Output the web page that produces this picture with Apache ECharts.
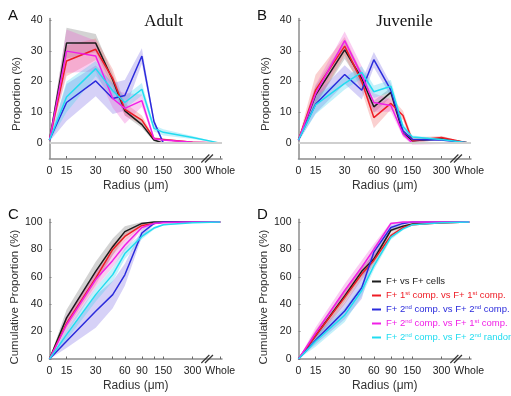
<!DOCTYPE html>
<html><head><meta charset="utf-8">
<script src="https://cdn.jsdelivr.net/npm/echarts@6/dist/echarts.min.js"></script>
<style>html,body{margin:0;padding:0;background:#fff}#c{width:511px;height:396px}</style>
</head><body><div id="c"></div><script>
// ---- data ----
const radii = [0, 15, 30, 45, 60, 90, 120, 150, 300, 'Whole'];
const xLabelRadii = [0, 15, 30, 60, 90, 150, 300, 'Whole'];
const xTickRadii = [15, 30, 45, 60, 90, 120, 150, 300, 'Whole'];
const yTicksProportion = [0, 10, 20, 30, 40];
const yTicksCumulative = [0, 20, 40, 60, 80, 100];
const seriesNames = ['F+ vs F+ cells', 'F+ 1st comp. vs F+ 1st comp.', 'F+ 2nd comp. vs F+ 2nd comp.', 'F+ 2nd comp. vs F+ 1st comp.', 'F+ 2nd comp. vs F+ 2nd random'];

// Panel A (Adult) mean and SEM
const adultBlack   = [1, 32.5, 32.5, 20.5, 10.5, 6, 1, 0, 0, 0];
const adultRed     = [1, 26.7, 30.5, 21, 11, 7.5, 1.5, 1.2, 0.3, 0];
const adultBlue    = [1, 13.2, 20.2, 14.5, 15.5, 28.3, 7, 0, 0, 0];
const adultMagenta = [1, 29.9, 28.3, 14.5, 11.3, 13.8, 1.4, 1.0, 0.3, 0];
const adultCyan    = [1, 15, 24.2, 17, 13.2, 17.5, 4.8, 3.5, 1.8, 0];
const adultBlackSem   = [0.5, 5, 3, 2, 1.5, 1, 0.5, 0, 0, 0];
const adultRedSem     = [0.5, 5, 3.5, 3, 2, 1.5, 0.5, 0.3, 0.2, 0];
const adultBlueSem    = [0.5, 6, 5, 5, 5, 2.5, 1, 0, 0, 0];
const adultMagentaSem = [0.5, 7, 5, 3, 5, 2, 0.5, 0.3, 0.2, 0];
const adultCyanSem    = [0.5, 5, 2.5, 2, 2, 2, 1, 1, 0.5, 0];

// Panel B (Juvenile)
const juvBlack   = [1, 15.6, 30.3, 21, 11.8, 16.5, 3.2, 0.8, 1.4, 0];
const juvRed     = [1, 17.2, 31.5, 20, 8.3, 12.9, 9, 0.8, 1.8, 0];
const juvBlue    = [1, 12.6, 22.3, 17.2, 27.1, 17.2, 4, 1.2, 1, 0];
const juvMagenta = [1, 16, 33.3, 22, 13.2, 12.2, 3, 0, 0, 0];
const juvCyan    = [1, 12.4, 19.4, 23, 16.7, 18.5, 5.4, 2, 1.2, 0];
const juvBlackSem   = [0.5, 3, 3, 2, 2, 1.5, 1, 0.5, 0.5, 0];
const juvRedSem     = [0.5, 5, 3, 3, 3.5, 2, 1.5, 1, 0.5, 0];
const juvBlueSem    = [0.5, 3, 3, 3, 2.5, 2, 1, 0.5, 0.3, 0];
const juvMagentaSem = [0.5, 3, 3, 3, 3, 2, 1, 0.5, 0.3, 0];
const juvCyanSem    = [0.5, 3, 2, 2, 2, 2, 1, 0.5, 0.3, 0];

// Panel C (Adult cumulative)
const adultCumBlack   = [0, 30, 64, 82, 93, 99, 100, 100, 100, 100];
const adultCumRed     = [0, 26, 59, 80, 89.5, 97.5, 99, 100, 100, 100];
const adultCumBlue    = [0, 13, 34.8, 47, 61.5, 92, 99, 100, 100, 100];
const adultCumMagenta = [0, 25, 58, 72, 83, 96, 99, 99.5, 100, 100];
const adultCumCyan    = [0, 17.8, 47, 61.6, 77, 89.5, 95.6, 98, 99.5, 100];
const adultCumBlackSem   = [0, 6, 7, 6, 4, 1, 0, 0, 0, 0];
const adultCumRedSem     = [0, 4, 5, 4, 3, 1, 0.5, 0, 0, 0];
const adultCumBlueSem    = [0, 5, 12, 10, 8, 3, 1, 0, 0, 0];
const adultCumMagentaSem = [0, 7, 6, 5, 4, 1.5, 0.5, 0, 0, 0];
const adultCumCyanSem    = [0, 4, 5, 5, 4, 2, 1, 0.5, 0, 0];

// Panel D (Juvenile cumulative)
const juvCumBlack   = [0, 17, 46, 64, 73, 94, 97, 98.5, 99.5, 100];
const juvCumRed     = [0, 17, 45, 62, 72, 90, 96, 98, 99.5, 100];
const juvCumBlue    = [0, 13.6, 35, 52, 78, 96, 99, 100, 100, 100];
const juvCumMagenta = [0, 19, 50, 67, 80, 99, 100, 100, 100, 100];
const juvCumCyan    = [0, 13, 32, 50, 68, 89, 95, 98, 99.5, 100];
const juvCumBlackSem   = [0, 3, 4, 4, 3, 1.5, 1, 0.5, 0, 0];
const juvCumRedSem     = [0, 4, 5, 4, 4, 2, 1, 0.5, 0, 0];
const juvCumBlueSem    = [0, 3, 6, 8, 4, 2, 1, 0, 0, 0];
const juvCumMagentaSem = [0, 4, 5, 5, 4, 1, 0, 0, 0, 0];
const juvCumCyanSem    = [0, 4, 5, 4, 3, 2, 1, 0.5, 0, 0];

// ---- axis scale (log radius axis with "0" and "Whole" anchors) ----
const AXIS_ZERO = 10, AXIS_WHOLE = 580, AXIS_MAX = 605, BREAK_AT = 425;
function axisVal(r) { return r === 0 ? AXIS_ZERO : (r === 'Whole' ? AXIS_WHOLE : r); }
function labelOf(v) {
  const r = Math.round(v);
  if (r === AXIS_ZERO) return '0';
  if (r === AXIS_WHOLE) return 'Whole';
  return String(r);
}

// ---- styles ----
const lineColors = ['#1c1c1c', '#ee1c25', '#2b2bdc', '#f020e6', '#22dcf0'];
const bandColors = ['rgba(130,130,130,0.35)', 'rgba(240,110,110,0.32)', 'rgba(128,112,230,0.32)', 'rgba(240,90,210,0.3)', 'rgba(60,210,240,0.3)'];
const FONT = 'Liberation Sans, Arial, sans-serif';

const panels = [
  { means: [adultBlack, adultRed, adultBlue, adultMagenta, adultCyan],
    sems: [adultBlackSem, adultRedSem, adultBlueSem, adultMagentaSem, adultCyanSem],
    yMin: -5, yMax: 40.5, yTicks: yTicksProportion, yName: 'Proportion (%)', yNameShift: 11, zero: true },
  { means: [juvBlack, juvRed, juvBlue, juvMagenta, juvCyan],
    sems: [juvBlackSem, juvRedSem, juvBlueSem, juvMagentaSem, juvCyanSem],
    yMin: -5, yMax: 40.5, yTicks: yTicksProportion, yName: 'Proportion (%)', yNameShift: 11, zero: true },
  { means: [adultCumBlack, adultCumRed, adultCumBlue, adultCumMagenta, adultCumCyan],
    sems: [adultCumBlackSem, adultCumRedSem, adultCumBlueSem, adultCumMagentaSem, adultCumCyanSem],
    yMin: 0, yMax: 102, yTicks: yTicksCumulative, yName: 'Cumulative Proportion (%)', yNameShift: 16, zero: false },
  { means: [juvCumBlack, juvCumRed, juvCumBlue, juvCumMagenta, juvCumCyan],
    sems: [juvCumBlackSem, juvCumRedSem, juvCumBlueSem, juvCumMagentaSem, juvCumCyanSem],
    yMin: 0, yMax: 102, yTicks: yTicksCumulative, yName: 'Cumulative Proportion (%)', yNameShift: 16, zero: false }
];

const gridBoxes = [
  { left: 49.5, top: 18.5, width: 172.5, height: 140 },
  { left: 298.5, top: 18.5, width: 172.5, height: 140 },
  { left: 49.5, top: 219.3, width: 172.5, height: 139.7 },
  { left: 298.5, top: 219.3, width: 172.5, height: 139.7 }
];

const axisLineStyle = { color: '#8c8c8c', width: 1.5 };
const xAxes = [], yAxes = [], series = [];
panels.forEach((p, i) => {
  xAxes.push({
    gridIndex: i, type: 'log', logBase: 10, min: AXIS_ZERO, max: AXIS_MAX,
    name: 'Radius (\u03bcm)', nameLocation: 'middle', nameGap: 21,
    nameTextStyle: { fontFamily: FONT, fontSize: 12, color: '#333' },
    axisLine: { show: true, onZero: false, lineStyle: axisLineStyle },
    axisTick: { show: true, inside: true, length: 2.5, customValues: xTickRadii.map(axisVal), lineStyle: { color: '#666' } },
    axisLabel: { customValues: xLabelRadii.map(axisVal), formatter: labelOf, margin: 7,
      fontFamily: FONT, fontSize: 10.5, color: '#222' },
    splitLine: { show: false }, minorTick: { show: false }
  });
  yAxes.push({
    gridIndex: i, type: 'value', min: p.yMin, max: p.yMax,
    name: p.yName, nameLocation: 'middle', nameGap: 27, nameRotate: 90,
    nameTextStyle: { fontFamily: FONT, fontSize: 11.5, color: '#333', padding: [0, p.yNameShift, 0, 0] },
    axisLine: { show: true, onZero: false, lineStyle: axisLineStyle },
    axisTick: { show: true, inside: true, length: 2, customValues: p.yTicks, lineStyle: { color: '#888' } },
    axisLabel: { customValues: p.yTicks, margin: 7, fontFamily: FONT, fontSize: 10.5, color: '#222' },
    splitLine: { show: false }
  });
  // zero reference line
  if (p.zero) {
    series.push({
      type: 'line', name: 'zero' + i, xAxisIndex: i, yAxisIndex: i, data: [], silent: true, z: 0,
      markLine: { silent: true, symbol: 'none', label: { show: false },
        lineStyle: { color: '#cfcfcf', width: 2, type: 'solid' }, data: [{ yAxis: 0 }] }
    });
  }
  // SEM bands (polygons drawn through the axis scale)
  p.means.forEach((m, k) => {
    const s = p.sems[k];
    const bandData = radii.map((r, j) => [axisVal(r), m[j] - s[j], m[j] + s[j]]);
    series.push({
      type: 'custom', name: 'band' + i + k, xAxisIndex: i, yAxisIndex: i, silent: true, z: 1,
      clip: true,
      encode: { x: 0, y: [1, 2] },
      data: bandData,
      renderItem: (params, api) => {
        if (params.dataIndex !== 0) return null;
        const top = bandData.map(d => api.coord([d[0], d[2]]));
        const bot = bandData.map(d => api.coord([d[0], d[1]])).reverse();
        return { type: 'polygon', shape: { points: top.concat(bot) },
          style: { fill: bandColors[k], stroke: null } };
      }
    });
  });
  // mean lines
  p.means.forEach((m, k) => {
    series.push({
      type: 'line', name: seriesNames[k], xAxisIndex: i, yAxisIndex: i,
      data: radii.map((r, j) => [axisVal(r), m[j]]),
      symbol: 'none', lineStyle: { color: lineColors[k], width: 1.5 }, itemStyle: { color: lineColors[k] }, z: 3
    });
  });
});

const chart = echarts.init(document.getElementById('c'), null, { renderer: 'canvas' });
chart.setOption({
  animation: false,
  backgroundColor: '#fff',
  grid: gridBoxes.map(g => Object.assign({ containLabel: false }, g)),
  xAxis: xAxes, yAxis: yAxes, series: series,
  legend: {
    orient: 'vertical', left: 372, top: 276, itemWidth: 9, itemHeight: 2, itemGap: 3, icon: 'rect',
    padding: 0, selectedMode: false,
    formatter: name => name.replace(/(\d)(st|nd)/g, '$1{sup|$2}'),
    textStyle: { fontFamily: FONT, fontSize: 9.5, lineHeight: 11,
      rich: { sup: { fontFamily: FONT, fontSize: 6, lineHeight: 11, verticalAlign: 'top' } } },
    data: seriesNames.map((n, k) => ({ name: n, itemStyle: { color: lineColors[k] },
      textStyle: { color: k === 0 ? '#222' : lineColors[k] } }))
  },
  graphic: [
    { type: 'text', x: 8, y: 16, style: { text: 'A', font: '15px ' + FONT, fill: '#111', verticalAlign: 'middle' } },
    { type: 'text', x: 257, y: 16, style: { text: 'B', font: '15px ' + FONT, fill: '#111', verticalAlign: 'middle' } },
    { type: 'text', x: 8, y: 215, style: { text: 'C', font: '15px ' + FONT, fill: '#111', verticalAlign: 'middle' } },
    { type: 'text', x: 257, y: 215, style: { text: 'D', font: '15px ' + FONT, fill: '#111', verticalAlign: 'middle' } },
    { type: 'text', x: 163.5, y: 21.5, z: 10, style: { text: 'Adult', font: '17px "Liberation Serif", "Times New Roman", serif', fill: '#111', align: 'center', verticalAlign: 'middle' } },
    { type: 'text', x: 404.5, y: 21.5, z: 10, style: { text: 'Juvenile', font: '17px "Liberation Serif", "Times New Roman", serif', fill: '#111', align: 'center', verticalAlign: 'middle' } }
  ]
});

// axis break marks "//" placed through the axis scale
const breaks = [];
panels.forEach((p, i) => {
  const pt = chart.convertToPixel({ gridIndex: i }, [BREAK_AT, p.yMin]);
  [-1.8, 1.8].forEach(dx => {
    breaks.push({ type: 'line', z: 100,
      shape: { x1: pt[0] + dx - 4, y1: pt[1] + 4, x2: pt[0] + dx + 4, y2: pt[1] - 4 },
      style: { stroke: '#333', lineWidth: 1.2 } });
  });
});
chart.setOption({ graphic: breaks.map((b, n) => Object.assign({ id: 'brk' + n }, b)) });
</script></body></html>
